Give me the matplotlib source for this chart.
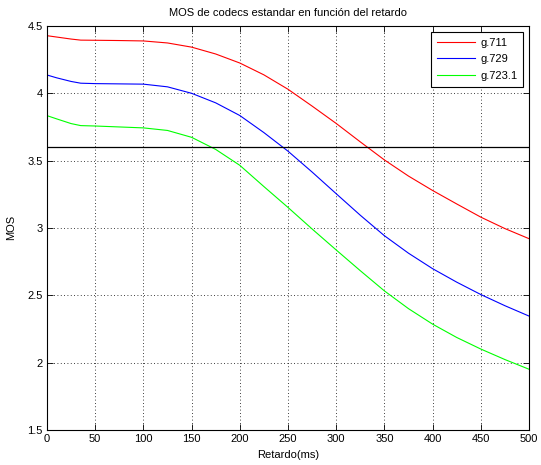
import matplotlib
matplotlib.use('Agg')
import matplotlib.pyplot as plt
import numpy as np

plt.rcParams['font.family'] = ['Liberation Sans', 'DejaVu Sans']

# retardo en ms y MOS de cada codec
retardo = [0, 10, 25, 35, 50, 75, 100, 125, 150, 175, 200, 225, 250,
           275, 300, 325, 350, 375, 400, 425, 450, 475, 500]
mos_g711 = [4.428, 4.418, 4.403, 4.395, 4.394, 4.392, 4.389, 4.374, 4.343,
            4.292, 4.225, 4.137, 4.030, 3.905, 3.776, 3.639, 3.505, 3.385,
            3.278, 3.178, 3.080, 2.995, 2.920]
mos_g729 = [4.136, 4.115, 4.088, 4.075, 4.072, 4.070, 4.068, 4.048, 4.000,
            3.929, 3.835, 3.708, 3.570, 3.415, 3.254, 3.094, 2.942, 2.812,
            2.697, 2.597, 2.505, 2.422, 2.345]
mos_g7231 = [3.834, 3.810, 3.775, 3.760, 3.757, 3.750, 3.743, 3.724, 3.673,
             3.583, 3.465, 3.307, 3.152, 2.992, 2.836, 2.682, 2.532, 2.400,
             2.285, 2.186, 2.100, 2.022, 1.950]
umbral = 3.6

fig = plt.figure(figsize=(5.41, 4.65), dpi=100)
ax = fig.add_axes([47/541, 35.2/465, 482/541, 403.8/465])

ax.plot(retardo, mos_g711, color='#ff0000', lw=0.8, label='g.711')
ax.plot(retardo, mos_g729, color='#0000ff', lw=0.8, label='g.729')
ax.plot(retardo, mos_g7231, color='#00ff00', lw=0.8, label='g.723.1')
ax.axhline(umbral, color='black', lw=0.9)

ax.set_xlim(0, 500)
ax.set_ylim(1.5, 4.5)
ax.set_xticks(np.arange(0, 501, 50))
ax.set_yticks([1.5, 2, 2.5, 3, 3.5, 4, 4.5])
ax.set_yticklabels(['1.5', '2', '2.5', '3', '3.5', '4', '4.5'])
ax.grid(True, color='black', linestyle=(0, (1, 3)), lw=0.6)
ax.tick_params(direction='in', top=True, right=True, labelsize=8,
               length=4, width=0.6, pad=3)
for s in ax.spines.values():
    s.set_linewidth(0.8)

ax.set_title('MOS de codecs estandar en función del retardo', fontsize=8, pad=7)
ax.set_xlabel('Retardo(ms)', fontsize=8, labelpad=4)
ax.set_ylabel('MOS', fontsize=8, labelpad=8)

leg = ax.legend(loc='upper right', fontsize=8, fancybox=False, framealpha=1,
                edgecolor='black', handlelength=3.4, borderpad=0.5,
                labelspacing=0.6, borderaxespad=0.55, handletextpad=0.5)
leg.get_frame().set_linewidth(0.8)

fig.savefig('out.png', dpi=100)
